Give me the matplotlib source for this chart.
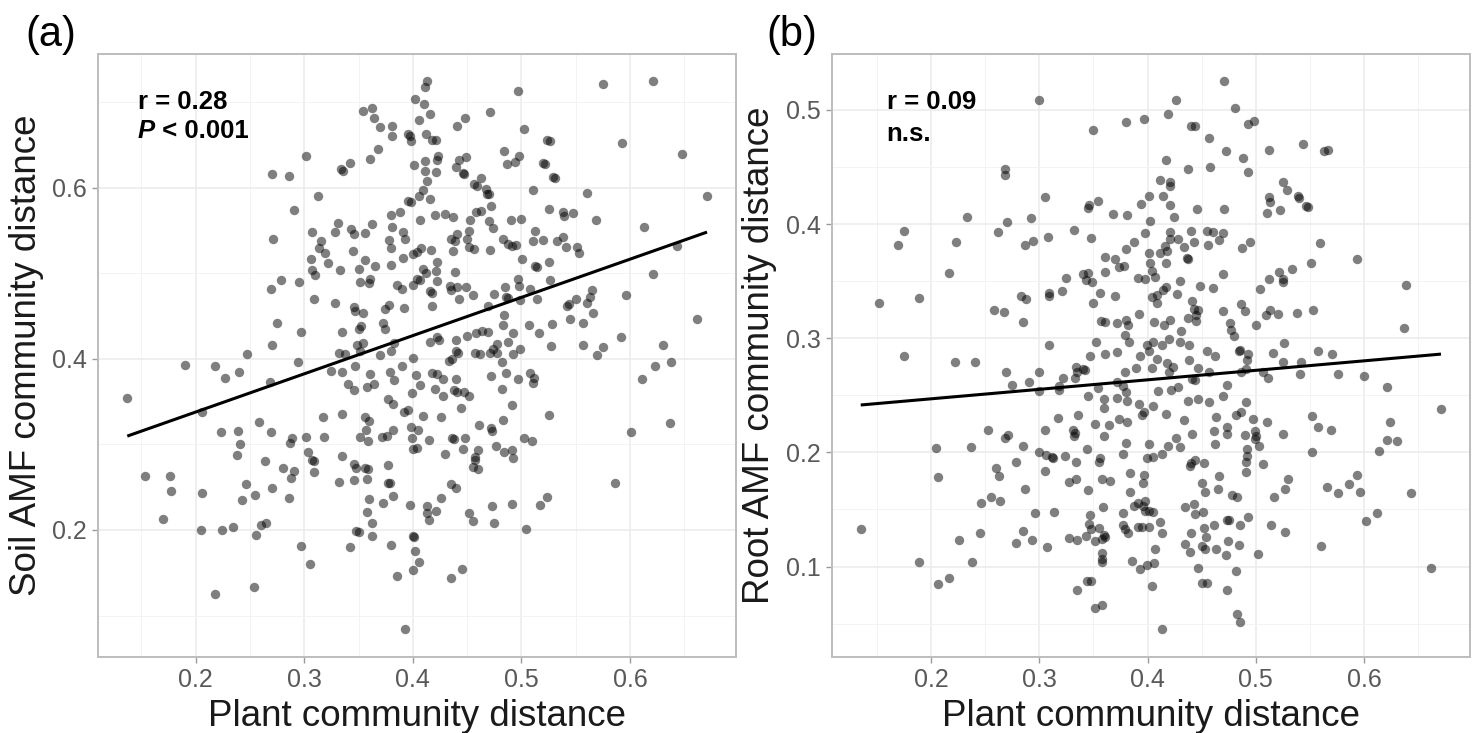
import numpy as np
import matplotlib
matplotlib.use("Agg")
import matplotlib.pyplot as plt
from matplotlib.ticker import MultipleLocator

plt.rcParams['font.family'] = ['Liberation Sans', 'DejaVu Sans']

# ---------------- Panel (a): plant vs soil AMF distance ----------------
a_pts = [
(0.270,0.616),(0.286,0.614),(0.291,0.574),(0.271,0.540),(0.279,0.492),(0.295,0.490),(0.269,0.482),(0.275,0.442),(0.297,0.431),(0.270,0.416),
(0.413,0.724),(0.411,0.718),(0.402,0.704),(0.410,0.698),(0.354,0.690),(0.362,0.693),(0.364,0.681),(0.416,0.686),(0.406,0.679),(0.448,0.681),
(0.441,0.672),(0.471,0.688),(0.370,0.671),(0.381,0.672),(0.381,0.660),(0.396,0.662),(0.398,0.654),(0.397,0.660),(0.412,0.662),(0.418,0.656),
(0.421,0.656),(0.368,0.645),(0.361,0.633),(0.334,0.622),(0.336,0.619),(0.342,0.629),(0.302,0.637),(0.401,0.626),(0.411,0.631),(0.422,0.632),
(0.423,0.637),(0.411,0.619),(0.421,0.618),(0.413,0.608),(0.484,0.643),(0.487,0.627),(0.449,0.636),(0.443,0.632),(0.440,0.624),(0.446,0.617),
(0.447,0.616),(0.463,0.611),(0.456,0.604),(0.459,0.602),(0.467,0.598),(0.468,0.593),(0.470,0.592),(0.313,0.590),(0.409,0.597),(0.406,0.590),
(0.416,0.587),(0.396,0.584),(0.398,0.583),(0.380,0.568),(0.388,0.572),(0.381,0.554),(0.407,0.562),(0.420,0.568),(0.430,0.569),(0.437,0.566),
(0.453,0.562),(0.458,0.571),(0.463,0.573),(0.472,0.579),(0.470,0.561),(0.474,0.553),(0.490,0.562),(0.452,0.549),(0.441,0.546),(0.435,0.540),
(0.439,0.537),(0.450,0.540),(0.452,0.530),(0.456,0.528),(0.471,0.527),(0.483,0.540),(0.488,0.534),(0.491,0.532),(0.307,0.548),(0.315,0.537),
(0.314,0.529),(0.319,0.524),(0.306,0.516),(0.322,0.512),(0.331,0.559),(0.328,0.548),(0.343,0.552),(0.346,0.546),(0.356,0.547),(0.362,0.557),
(0.345,0.526),(0.356,0.515),(0.378,0.539),(0.380,0.529),(0.391,0.548),(0.393,0.540),(0.391,0.518),(0.380,0.509),(0.365,0.508),(0.350,0.505),
(0.333,0.504),(0.307,0.504),(0.310,0.498),(0.400,0.522),(0.404,0.525),(0.408,0.529),(0.417,0.527),(0.437,0.526),(0.422,0.513),(0.421,0.502),
(0.412,0.500),(0.404,0.493),(0.407,0.492),(0.409,0.505),(0.385,0.486),(0.390,0.481),(0.400,0.486),(0.416,0.479),(0.418,0.477),(0.434,0.485),
(0.435,0.480),(0.441,0.484),(0.449,0.484),(0.455,0.474),(0.443,0.470),(0.439,0.501),(0.422,0.491),(0.361,0.493),(0.360,0.489),(0.351,0.490),
(0.309,0.470),(0.328,0.465),(0.346,0.460),(0.347,0.456),(0.354,0.453),(0.374,0.458),(0.378,0.463),(0.392,0.459),(0.418,0.462),(0.469,0.462),
(0.475,0.476),(0.485,0.484),(0.486,0.472),(0.488,0.471),(0.484,0.451),(0.483,0.439),(0.469,0.431),(0.458,0.430),(0.464,0.433),(0.450,0.427),
(0.440,0.422),(0.424,0.422),(0.422,0.425),(0.416,0.420),(0.373,0.442),(0.374,0.435),(0.352,0.438),(0.350,0.435),(0.335,0.431),(0.349,0.416),
(0.354,0.418),(0.383,0.418),(0.492,0.430),(0.488,0.420),(0.478,0.417),(0.474,0.412),
(0.497,0.713),(0.575,0.721),(0.621,0.724),(0.502,0.668),(0.526,0.654),(0.524,0.655),(0.593,0.652),(0.648,0.639),(0.498,0.637),(0.494,0.630),
(0.520,0.629),(0.522,0.627),(0.529,0.612),(0.531,0.611),(0.511,0.597),(0.560,0.594),(0.671,0.590),(0.525,0.575),(0.538,0.571),(0.539,0.567),
(0.548,0.570),(0.569,0.562),(0.500,0.563),(0.613,0.554),(0.513,0.549),(0.511,0.537),(0.520,0.539),(0.533,0.538),(0.538,0.542),(0.541,0.530),
(0.551,0.531),(0.553,0.524),(0.495,0.533),(0.643,0.532),(0.501,0.517),(0.513,0.508),(0.514,0.507),(0.525,0.513),(0.621,0.499),(0.497,0.493),
(0.498,0.485),(0.526,0.492),(0.508,0.482),(0.514,0.470),(0.499,0.469),(0.565,0.480),(0.563,0.472),(0.550,0.470),(0.560,0.465),(0.542,0.462),
(0.544,0.464),(0.596,0.474),(0.566,0.453),(0.545,0.446),(0.557,0.442),(0.662,0.446),(0.507,0.439),(0.528,0.441),(0.516,0.430),(0.592,0.426),
(0.527,0.415),(0.557,0.416),(0.575,0.414),(0.630,0.416),(0.499,0.412),
(0.247,0.405),(0.190,0.393),(0.218,0.391),(0.227,0.378),(0.240,0.385),(0.294,0.396),(0.268,0.373),(0.137,0.354),(0.206,0.338),(0.223,0.314),
(0.239,0.316),(0.241,0.300),(0.258,0.326),(0.269,0.315),(0.238,0.288),(0.264,0.281),(0.289,0.308),(0.287,0.302),(0.153,0.263),(0.176,0.263),
(0.177,0.245),(0.170,0.213),(0.206,0.243),(0.246,0.254),(0.243,0.235),(0.255,0.241),(0.270,0.249),(0.280,0.272),(0.291,0.269),(0.288,0.261),
(0.286,0.237),(0.205,0.200),(0.224,0.200),(0.234,0.203),(0.260,0.206),(0.265,0.208),(0.256,0.194),(0.297,0.181),(0.254,0.133),(0.218,0.125),
(0.332,0.407),(0.338,0.405),(0.351,0.409),(0.380,0.409),(0.400,0.401),(0.433,0.397),(0.436,0.400),(0.442,0.407),(0.440,0.409),(0.457,0.407),
(0.462,0.405),(0.471,0.407),(0.478,0.407),(0.492,0.406),(0.370,0.404),(0.390,0.392),(0.347,0.391),(0.325,0.386),(0.335,0.384),(0.361,0.382),
(0.379,0.385),(0.383,0.375),(0.403,0.381),(0.418,0.383),(0.422,0.382),(0.428,0.376),(0.440,0.376),(0.482,0.396),(0.486,0.383),(0.472,0.380),
(0.340,0.370),(0.346,0.364),(0.358,0.367),(0.364,0.370),(0.407,0.369),(0.399,0.360),(0.420,0.365),(0.428,0.356),(0.438,0.364),(0.441,0.361),
(0.447,0.361),(0.452,0.357),(0.482,0.365),(0.377,0.353),(0.382,0.347),(0.392,0.338),(0.396,0.340),(0.409,0.333),(0.426,0.332),(0.444,0.342),
(0.491,0.346),(0.317,0.332),(0.335,0.335),(0.356,0.332),(0.360,0.327),(0.357,0.317),(0.351,0.309),(0.359,0.304),(0.372,0.309),(0.376,0.310),
(0.382,0.317),(0.398,0.320),(0.405,0.317),(0.399,0.307),(0.400,0.295),(0.404,0.296),(0.415,0.305),(0.436,0.307),(0.438,0.306),(0.448,0.308),
(0.446,0.295),(0.461,0.323),(0.472,0.319),(0.473,0.316),(0.483,0.328),(0.477,0.298),(0.484,0.291),(0.491,0.293),(0.492,0.284),(0.430,0.289),
(0.460,0.293),(0.457,0.285),(0.457,0.282),(0.455,0.274),(0.460,0.271),(0.302,0.309),(0.318,0.309),(0.303,0.291),(0.307,0.282),(0.309,0.281),
(0.309,0.268),(0.335,0.287),(0.346,0.277),(0.348,0.273),(0.356,0.272),(0.359,0.271),(0.377,0.276),(0.332,0.256),(0.346,0.258),(0.358,0.260),
(0.377,0.255),(0.379,0.255),(0.360,0.236),(0.373,0.232),(0.382,0.240),(0.397,0.229),(0.358,0.221),(0.362,0.208),(0.413,0.228),(0.413,0.220),
(0.421,0.222),(0.415,0.212),(0.426,0.237),(0.435,0.254),(0.440,0.249),(0.452,0.220),(0.455,0.210),(0.473,0.228),(0.491,0.230),(0.475,0.208),
(0.348,0.199),(0.350,0.198),(0.362,0.193),(0.342,0.180),(0.380,0.183),(0.400,0.193),(0.401,0.192),(0.402,0.175),(0.406,0.163),(0.400,0.153),
(0.385,0.146),(0.445,0.155),(0.435,0.144),(0.305,0.160),(0.393,0.084),
(0.570,0.404),(0.623,0.392),(0.638,0.396),(0.611,0.376),(0.508,0.383),(0.512,0.378),(0.511,0.372),(0.497,0.376),(0.525,0.334),(0.637,0.325),
(0.601,0.315),(0.502,0.307),(0.510,0.304),(0.586,0.255),(0.524,0.239),(0.517,0.229),(0.504,0.201),
]

# ---------------- Panel (b): plant vs root AMF distance ----------------
b_pts = [
(0.268,0.448),(0.268,0.443),(0.233,0.406),(0.270,0.402),(0.292,0.405),(0.262,0.393),(0.175,0.394),(0.169,0.382),(0.223,0.384),(0.287,0.382),
(0.294,0.385),(0.217,0.357),(0.152,0.331),(0.189,0.335),(0.258,0.325),(0.267,0.323),(0.283,0.337),(0.288,0.334),(0.285,0.314),
(0.300,0.509),(0.471,0.525),(0.426,0.509),(0.481,0.502),(0.419,0.496),(0.397,0.492),(0.380,0.489),(0.350,0.482),(0.440,0.486),(0.444,0.486),
(0.493,0.488),(0.457,0.475),(0.472,0.464),(0.488,0.458),(0.417,0.456),(0.437,0.448),(0.458,0.450),(0.493,0.446),(0.411,0.439),(0.421,0.437),
(0.421,0.433),(0.305,0.424),(0.346,0.417),(0.354,0.420),(0.345,0.414),(0.368,0.409),(0.381,0.408),(0.394,0.418),(0.401,0.425),(0.414,0.425),
(0.421,0.417),(0.424,0.406),(0.402,0.403),(0.446,0.413),(0.471,0.413),(0.308,0.389),(0.332,0.395),(0.348,0.388),(0.398,0.392),(0.421,0.393),
(0.421,0.387),(0.428,0.387),(0.440,0.394),(0.455,0.394),(0.460,0.393),(0.470,0.392),(0.466,0.386),(0.443,0.384),(0.456,0.382),(0.434,0.380),
(0.487,0.379),(0.495,0.384),(0.387,0.384),(0.380,0.378),(0.416,0.381),(0.411,0.375),(0.418,0.376),(0.401,0.375),(0.402,0.366),(0.417,0.366),
(0.437,0.369),(0.436,0.370),(0.361,0.371),(0.370,0.369),(0.374,0.362),(0.378,0.363),(0.361,0.358),(0.404,0.359),(0.407,0.354),(0.391,0.353),
(0.398,0.352),(0.340,0.356),(0.345,0.357),(0.343,0.351),(0.349,0.349),(0.325,0.353),(0.430,0.350),(0.470,0.356),(0.448,0.346),(0.460,0.344),
(0.309,0.340),(0.309,0.337),(0.321,0.341),(0.356,0.340),(0.370,0.337),(0.350,0.331),(0.414,0.342),(0.417,0.345),(0.409,0.338),(0.404,0.336),
(0.409,0.331),(0.427,0.339),(0.441,0.333),(0.443,0.326),(0.447,0.325),(0.445,0.320),(0.445,0.315),(0.437,0.318),(0.470,0.324),(0.486,0.330),
(0.490,0.324),(0.392,0.321),(0.357,0.315),(0.361,0.314),(0.372,0.313),(0.380,0.316),(0.382,0.312),(0.406,0.314),(0.415,0.312),(0.421,0.316),
(0.379,0.303),(0.383,0.297),(0.431,0.306),(0.430,0.297),(0.420,0.299),(0.405,0.297),(0.399,0.294),(0.413,0.294),(0.309,0.294),(0.352,0.297),
(0.438,0.294),(0.476,0.313),(0.477,0.307),(0.480,0.302),(0.485,0.290),
(0.498,0.490),(0.512,0.465),(0.544,0.470),(0.563,0.464),(0.567,0.465),(0.525,0.437),(0.529,0.430),(0.512,0.424),(0.513,0.419),(0.510,0.410),
(0.522,0.412),(0.539,0.425),(0.540,0.423),(0.546,0.416),(0.548,0.415),(0.559,0.383),(0.593,0.369),(0.551,0.366),(0.533,0.361),(0.521,0.358),
(0.525,0.352),(0.525,0.349),(0.512,0.352),(0.504,0.343),(0.639,0.347),(0.513,0.325),(0.509,0.320),(0.520,0.321),(0.538,0.322),(0.553,0.325),
(0.500,0.312),(0.637,0.309),(0.526,0.296),
(0.175,0.284),(0.222,0.279),(0.241,0.279),(0.269,0.270),(0.275,0.259),(0.290,0.262),(0.253,0.220),(0.268,0.213),(0.271,0.215),(0.205,0.204),
(0.237,0.205),(0.285,0.206),(0.260,0.186),(0.263,0.179),(0.278,0.192),(0.206,0.178),(0.287,0.168),(0.246,0.156),(0.255,0.161),(0.264,0.157),
(0.296,0.147),(0.135,0.133),(0.245,0.129),(0.226,0.123),(0.278,0.121),(0.285,0.131),(0.293,0.123),(0.189,0.104),(0.238,0.104),(0.206,0.085),
(0.217,0.090),
(0.347,0.284),(0.361,0.286),(0.372,0.288),(0.393,0.284),(0.401,0.289),(0.409,0.282),(0.438,0.281),(0.455,0.289),(0.462,0.284),(0.484,0.289),
(0.493,0.286),(0.492,0.281),(0.300,0.270),(0.322,0.265),(0.334,0.275),(0.340,0.273),(0.342,0.272),(0.335,0.270),(0.333,0.265),(0.318,0.258),
(0.318,0.255),(0.300,0.254),(0.354,0.256),(0.345,0.249),(0.360,0.247),(0.360,0.239),(0.372,0.262),(0.379,0.270),(0.389,0.274),(0.404,0.274),
(0.418,0.278),(0.423,0.275),(0.420,0.270),(0.377,0.258),(0.380,0.253),(0.372,0.248),(0.381,0.245),(0.392,0.242),(0.405,0.241),(0.395,0.233),
(0.397,0.235),(0.410,0.254),(0.422,0.255),(0.428,0.257),(0.441,0.264),(0.444,0.263),(0.457,0.270),(0.447,0.274),(0.473,0.259),(0.470,0.249),
(0.437,0.245),(0.447,0.247),(0.457,0.244),(0.486,0.270),(0.491,0.273),(0.491,0.244),(0.417,0.234),(0.434,0.228),(0.463,0.231),(0.482,0.233),
(0.486,0.235),(0.317,0.230),(0.336,0.233),(0.305,0.220),(0.331,0.220),(0.333,0.217),(0.332,0.214),(0.351,0.225),(0.364,0.224),(0.374,0.229),
(0.381,0.227),(0.360,0.214),(0.380,0.208),(0.377,0.199),(0.401,0.207),(0.426,0.213),(0.430,0.205),(0.419,0.206),(0.413,0.199),(0.405,0.196),
(0.399,0.195),(0.441,0.216),(0.461,0.219),(0.462,0.207),(0.473,0.222),(0.473,0.216),(0.490,0.215),(0.492,0.203),(0.492,0.197),(0.491,0.192),
(0.491,0.183),(0.300,0.200),(0.306,0.198),(0.312,0.196),(0.313,0.195),(0.324,0.197),(0.334,0.192),(0.344,0.203),(0.355,0.192),(0.356,0.195),
(0.305,0.184),(0.327,0.174),(0.334,0.177),(0.345,0.167),(0.358,0.177),(0.365,0.175),(0.384,0.182),(0.397,0.180),(0.396,0.173),(0.384,0.165),
(0.440,0.191),(0.444,0.193),(0.452,0.191),(0.439,0.188),(0.450,0.173),(0.453,0.165),(0.466,0.179),(0.465,0.168),(0.478,0.163),(0.483,0.161),
(0.314,0.148),(0.347,0.145),(0.359,0.152),(0.377,0.147),(0.387,0.153),(0.391,0.156),(0.396,0.153),(0.398,0.157),(0.398,0.149),(0.401,0.149),
(0.405,0.148),(0.435,0.152),(0.443,0.155),(0.444,0.146),(0.451,0.148),(0.473,0.141),(0.475,0.141),(0.493,0.143),(0.461,0.136),(0.485,0.136),
(0.452,0.134),(0.454,0.126),(0.440,0.129),(0.435,0.120),(0.439,0.113),(0.450,0.118),(0.453,0.115),(0.463,0.115),(0.474,0.122),(0.484,0.119),
(0.472,0.110),(0.346,0.137),(0.348,0.133),(0.355,0.134),(0.343,0.127),(0.351,0.122),(0.360,0.128),(0.361,0.126),(0.358,0.124),(0.327,0.125),
(0.335,0.123),(0.307,0.117),(0.377,0.136),(0.379,0.133),(0.382,0.129),(0.391,0.135),(0.395,0.135),(0.401,0.135),(0.411,0.139),(0.413,0.129),
(0.407,0.115),(0.358,0.112),(0.358,0.107),(0.358,0.104),(0.386,0.105),(0.393,0.098),(0.399,0.101),(0.406,0.103),(0.404,0.083),(0.344,0.087),
(0.348,0.087),(0.335,0.079),(0.351,0.064),(0.358,0.066),(0.447,0.099),(0.450,0.086),(0.455,0.086),(0.473,0.079),(0.482,0.096),(0.483,0.058),
(0.485,0.051),(0.413,0.045),
(0.516,0.287),(0.557,0.289),(0.570,0.286),(0.525,0.279),(0.542,0.279),(0.507,0.270),(0.511,0.265),(0.541,0.269),(0.576,0.269),(0.600,0.267),
(0.621,0.257),(0.671,0.238),(0.510,0.227),(0.552,0.232),(0.557,0.222),(0.569,0.220),(0.525,0.216),(0.497,0.229),(0.499,0.219),(0.500,0.214),
(0.499,0.212),(0.503,0.206),(0.624,0.227),(0.621,0.211),(0.630,0.210),(0.614,0.201),(0.552,0.200),(0.507,0.190),(0.530,0.177),(0.527,0.168),
(0.517,0.161),(0.566,0.170),(0.576,0.164),(0.586,0.172),(0.593,0.180),(0.596,0.165),(0.643,0.164),(0.514,0.136),(0.527,0.130),(0.602,0.140),
(0.612,0.147),(0.560,0.118),(0.502,0.111),(0.662,0.099),
]

plant_a = [p[0] for p in a_pts]
soil_amf = [p[1] for p in a_pts]
plant_b = [p[0] for p in b_pts]
root_amf = [p[1] for p in b_pts]

x_label = "Plant community distance"
y_labels = ["Soil AMF community distance", "Root AMF community distance"]
panel_tags = ["(a)", "(b)"]
stat_r = ["r = 0.28", "r = 0.09"]

fig = plt.figure(figsize=(14.81, 7.33), dpi=100)
W, H = 1481, 733
ax_a = fig.add_axes([98.3 / W, 1 - 656.7 / H, (736 - 98.3) / W, (656.7 - 54) / H])
ax_b = fig.add_axes([831.7 / W, 1 - 656.7 / H, (1470 - 831.7) / W, (656.7 - 54) / H])

border = '#bdbdbd'
for ax, xs, ys, ylab, ymaj in [(ax_a, plant_a, soil_amf, y_labels[0], 0.2),
                               (ax_b, plant_b, root_amf, y_labels[1], 0.1)]:
    xs = np.asarray(xs); ys = np.asarray(ys)
    ax.set_axisbelow(True)
    ax.scatter(xs, ys, s=46, color='black', alpha=0.5, linewidths=0, zorder=2)
    slope, icpt = np.polyfit(xs, ys, 1)
    xl = np.array([xs.min(), xs.max()])
    ax.plot(xl, icpt + slope * xl, color='black', lw=2.2, zorder=3, solid_capstyle='butt')
    ax.margins(0.05)
    ax.xaxis.set_major_locator(MultipleLocator(0.1))
    ax.xaxis.set_minor_locator(MultipleLocator(0.05))
    ax.yaxis.set_major_locator(MultipleLocator(ymaj))
    ax.yaxis.set_minor_locator(MultipleLocator(ymaj / 2))
    ax.grid(which='major', color='#ebebeb', lw=1.1)
    ax.grid(which='minor', color='#f3f3f3', lw=0.7)
    ax.tick_params(which='minor', length=0)
    ax.tick_params(which='major', length=4, width=1, color='#9a9a9a',
                   labelsize=18, labelcolor='#595959', pad=4)
    for sp in ax.spines.values():
        sp.set_color(border)
        sp.set_linewidth(1.4)
    ax.set_xlabel(x_label, fontsize=26.5, color='#1a1a1a', labelpad=5)
    ax.set_ylabel(ylab, fontsize=26.5, color='#1a1a1a', labelpad=6)

ax_a.yaxis.set_major_formatter(matplotlib.ticker.FormatStrFormatter('%.1f'))
ax_b.yaxis.set_major_formatter(matplotlib.ticker.FormatStrFormatter('%.1f'))

# statistics annotations
ax_a.text(0.062, 0.921, stat_r[0], transform=ax_a.transAxes, fontsize=18.5,
          fontweight='bold', va='center', ha='left')
pt = ax_a.text(0.062, 0.873, "P", transform=ax_a.transAxes, fontsize=18.5,
               fontweight='bold', fontstyle='italic', va='center', ha='left')
ax_a.annotate(" < 0.001", xy=(1, 0), xycoords=pt, fontsize=18.5,
              fontweight='bold', va='bottom', ha='left')
ax_b.text(0.086, 0.921, stat_r[1], transform=ax_b.transAxes, fontsize=18.5,
          fontweight='bold', va='center', ha='left')
ax_b.text(0.086, 0.868, "n.s.", transform=ax_b.transAxes, fontsize=18.5,
          fontweight='bold', va='center', ha='left')

# panel tags
fig.text(25 / W, 1 - 35 / H, panel_tags[0], fontsize=30, va='center', ha='left')
fig.text(766 / W, 1 - 35 / H, panel_tags[1], fontsize=30, va='center', ha='left')

fig.savefig("out.png", dpi=100)
